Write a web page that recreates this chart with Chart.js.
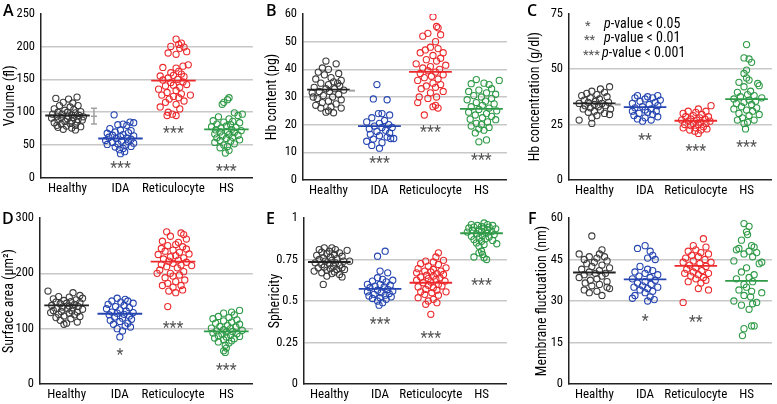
<!DOCTYPE html>
<html>
<head>
<meta charset="utf-8">
<script src="https://cdn.jsdelivr.net/npm/chart.js@4.4.1/dist/chart.umd.min.js"></script>
<style>
  body { margin: 0; background: #fff; }
  #wrap { position: relative; width: 777px; height: 404px; overflow: hidden;
          font-family: 'Roboto Condensed', sans-serif; }
  canvas { position: absolute; }
  .lbl { position: absolute; font-family: 'Open Sans', sans-serif; font-weight: 600; font-size: 16px; line-height: 16px; color: #000; }
  .leg { position: absolute; font-size: 14px; line-height: 14px; white-space: nowrap; color: #000; }
  .leg.st { color: #555; font-size: 13px; }
</style>
</head>
<body>
<div id="wrap">
  <canvas id="cA" width="258" height="202" style="left:0;top:0"></canvas>
  <canvas id="cB" width="254" height="202" style="left:258px;top:0"></canvas>
  <canvas id="cC" width="265" height="202" style="left:512px;top:0"></canvas>
  <canvas id="cD" width="258" height="202" style="left:0;top:202px"></canvas>
  <canvas id="cE" width="254" height="202" style="left:258px;top:202px"></canvas>
  <canvas id="cF" width="265" height="202" style="left:512px;top:202px"></canvas>

  <div class="lbl" style="left:3px;top:2px">A</div>
  <div class="lbl" style="left:266px;top:2px">B</div>
  <div class="lbl" style="left:527px;top:2px">C</div>
  <div class="lbl" style="left:2px;top:210px">D</div>
  <div class="lbl" style="left:266px;top:210px">E</div>
  <div class="lbl" style="left:528px;top:210px">F</div>

  <div class="leg st" style="left:585px;top:19px">*</div>
  <div class="leg" style="left:604px;top:16px"><i>p</i>-value &lt; 0.05</div>
  <div class="leg st" style="left:584px;top:33px">**</div>
  <div class="leg" style="left:604px;top:30px"><i>p</i>-value &lt; 0.01</div>
  <div class="leg st" style="left:583px;top:48px">***</div>
  <div class="leg" style="left:602px;top:45px"><i>p</i>-value &lt; 0.001</div>
</div>
<script>
// categories and colours
const categories = ['Healthy', 'IDA', 'Reticulocyte', 'HS'];
const pointColors = ['#3c3c3c', '#2545b0', '#ec2a2d', '#2f9a47'];
const lineColors = ['#222222', '#2545b0', '#ec2a2d', '#2f9a47'];

// each point: [horizontal jitter within category, value]
// A - Volume (fl)
const volHealthy = [[-0.22,121],[0.18,123],[0.02,120],[-0.08,115],[0.1,114],[0.2,110],[-0.15,110],[0.05,108],[-0.25,105],[0.12,104],[-0.05,103],[0.25,101],[-0.18,100],[0.0,100],[0.15,99],[-0.28,97],[-0.1,97],[0.08,96],[0.22,95],[-0.2,94],[0.02,94],[0.3,93],[-0.12,92],[0.12,92],[-0.3,91],[0.0,90],[0.2,89],[-0.18,88],[0.08,87],[-0.05,86],[0.18,85],[-0.25,84],[0.05,83],[-0.12,82],[0.15,80],[-0.02,79],[0.25,78],[-0.18,77],[0.08,76],[-0.08,74],[0.15,73],[-0.2,80],[0.28,88]];
const volIDA = [[-0.12,96],[0.18,85],[0.25,84],[0.05,82],[-0.05,81],[0.12,80],[-0.2,75],[0.0,73],[0.2,72],[-0.1,70],[0.15,69],[-0.25,68],[0.05,66],[-0.15,65],[0.25,64],[0.0,63],[-0.22,62],[0.12,61],[-0.08,60],[0.2,59],[-0.28,57],[0.02,56],[0.15,55],[-0.15,54],[0.25,53],[-0.05,52],[-0.25,51],[0.1,50],[0.2,48],[-0.1,47],[0.05,45],[-0.02,43],[0.08,40],[0.0,37]];
const volRetic = [[0.05,211],[0.15,205],[0.1,203],[-0.05,200],[0.2,199],[0.12,197],[0.25,192],[-0.1,190],[0.05,188],[0.28,172],[0.18,170],[-0.2,168],[0.05,167],[0.1,162],[-0.05,160],[0.15,158],[0.0,156],[-0.25,155],[0.2,154],[-0.1,152],[0.08,150],[-0.2,149],[0.18,146],[-0.05,145],[0.25,142],[0.0,141],[-0.15,140],[0.12,138],[-0.28,135],[0.05,133],[-0.12,130],[0.15,128],[-0.22,126],[0.32,126],[0.0,124],[0.1,122],[-0.08,120],[0.2,117],[-0.15,115],[0.05,112],[-0.25,108],[0.12,105],[-0.1,100],[-0.02,97],[0.05,95],[-0.12,95]];
const volHS = [[0.05,122],[0.02,119],[-0.05,115],[-0.08,112],[0.15,99],[0.3,97],[0.22,95],[-0.15,93],[0.05,90],[-0.25,87],[0.12,86],[-0.05,85],[0.25,84],[-0.18,82],[0.08,81],[0.0,79],[-0.28,78],[0.18,77],[-0.1,76],[0.1,74],[-0.2,73],[0.28,72],[0.02,71],[-0.12,70],[0.15,69],[-0.22,67],[0.05,66],[0.22,65],[-0.08,64],[0.12,62],[-0.18,61],[0.0,60],[0.25,58],[-0.12,57],[0.08,56],[-0.22,54],[0.15,52],[-0.05,50],[0.02,48],[-0.12,46],[0.05,42],[-0.02,38]];
const volMeans = [95, 60, 148, 74];
const volTicks = [0, 50, 100, 150, 200, 250];
const volStars = ['', '***', '***', '***'];
const volStarY = [null, 22, 75, 17];
const volRef = [94, 12];   // healthy reference mean, sd

// B - Hb content (pg)
const hbHealthy = [[-0.05,43],[0.15,42],[-0.12,40.5],[0.0,40],[-0.2,39],[0.2,38.5],[-0.08,38],[0.05,37],[-0.25,36.5],[0.25,36],[0.1,35.5],[-0.15,35],[0.0,34.5],[0.22,34],[-0.28,33.5],[-0.05,33],[0.12,33],[0.3,32.5],[-0.18,32],[0.02,32],[-0.32,31.5],[0.2,31],[-0.1,30.5],[0.08,30],[-0.22,29.5],[0.25,29],[0.0,28.5],[-0.12,28],[0.15,27.5],[-0.25,27],[0.05,26.5],[0.25,26],[-0.15,26],[0.0,25],[-0.05,24.5],[0.1,24.3],[0.18,35],[-0.3,30]];
const hbIDA = [[-0.05,34.5],[-0.12,29.3],[0.15,29],[-0.02,24],[0.05,24],[0.2,23.5],[-0.15,22.5],[0.1,21.5],[-0.25,21],[0.0,20.5],[0.18,20],[-0.1,19.5],[0.05,19],[0.25,19],[-0.2,18.5],[0.12,18],[-0.05,17.5],[0.2,17],[-0.18,16.5],[0.0,16],[0.15,15.5],[0.22,15],[0.28,15],[-0.12,14.8],[-0.25,14],[0.05,13.5],[-0.15,12.5],[0.0,11.5]];
const hbRetic = [[0.05,59],[0.12,55.5],[0.15,55],[-0.05,53],[0.2,52.5],[-0.15,52],[0.1,50],[0.0,48],[0.15,47.5],[-0.1,47],[0.25,46],[-0.2,46],[0.05,45],[0.2,44],[-0.08,43.5],[0.12,43],[-0.28,42],[0.3,41.5],[0.0,41],[-0.15,40.5],[0.18,40],[-0.05,39.5],[0.1,39],[-0.2,38.5],[0.25,38],[0.02,37.5],[-0.12,37],[0.15,36.5],[-0.25,36],[0.05,35],[0.2,34.5],[-0.08,34],[0.1,33.5],[-0.18,33],[0.25,32],[0.0,31.5],[-0.22,30],[0.12,30],[-0.05,29.5],[-0.25,28],[0.1,27],[0.05,26.5],[0.15,26],[-0.12,23.5]];
const hbHS = [[-0.1,36.3],[0.35,36],[0.05,35],[-0.2,34.8],[0.15,34.5],[0.2,33],[-0.05,32.5],[-0.25,32],[0.1,31.5],[0.28,31],[-0.15,30.5],[0.0,30],[0.2,29.5],[-0.28,29],[0.08,28.5],[-0.1,28],[0.25,27.5],[0.02,27],[-0.2,26.5],[0.15,26],[-0.05,25.5],[0.3,25],[-0.25,24.5],[0.1,24],[-0.12,23.5],[0.2,23],[0.02,22.5],[-0.22,22],[0.28,21.8],[0.12,21],[-0.1,20.5],[0.0,20],[-0.2,19.5],[0.15,19],[-0.05,18.5],[0.05,18],[-0.12,17],[0.1,14.5],[-0.05,13.8]];
const hbMeans = [32.7, 19.5, 39.1, 25.7];
const hbTicks = [0, 10, 20, 30, 40, 50, 60];
const hbStars = ['', '***', '***', '***'];
const hbStarY = [null, 7.5, 18.7, 8.7];
const hbRef = [32.3, 0];

// C - Hb concentration (g/dl)
const concHealthy = [[0.3,42],[0.12,41],[-0.05,40],[0.2,39.5],[-0.15,39],[0.05,38.5],[-0.25,38],[0.25,37.5],[-0.08,37],[0.1,36.5],[-0.2,36],[0.02,35.5],[0.28,35],[-0.12,35],[0.15,34.5],[-0.3,34.5],[0.0,34],[-0.18,33.5],[0.22,33.5],[0.08,33],[-0.08,32.5],[0.32,32],[-0.22,32],[0.12,31.5],[0.0,31],[-0.12,30.5],[0.2,30],[0.3,29.5],[0.05,29],[-0.05,28],[-0.3,27],[-0.05,25.5]];
const concIDA = [[-0.15,38],[0.25,38],[0.05,37.5],[-0.2,37],[0.15,37],[0.0,36.5],[0.3,36],[-0.1,35.5],[0.2,35],[-0.25,34.5],[0.08,34],[0.25,33.5],[-0.05,33],[-0.2,32.5],[0.12,32],[0.0,31.5],[-0.25,31],[0.22,31],[0.05,30.5],[-0.12,30],[0.15,29.5],[-0.22,29],[0.25,28.5],[0.0,28],[-0.15,27.5],[0.12,27],[-0.05,26.5]];
const concRetic = [[0.3,33.5],[0.05,32],[0.2,31],[-0.15,31],[0.0,30.5],[-0.25,30],[0.12,29.5],[-0.05,29],[0.25,28.5],[-0.2,28.5],[0.08,28],[-0.1,27.5],[0.18,27.5],[-0.28,27],[0.02,27],[0.28,26.5],[-0.15,26.5],[0.1,26],[-0.05,25.5],[0.2,25.5],[-0.22,25],[0.05,25],[-0.1,24.5],[0.15,24],[-0.25,23.5],[0.0,23.5],[0.22,23],[-0.12,22.5],[0.1,22.5],[-0.02,22],[0.05,21]];
const concHS = [[0.0,61],[-0.05,55],[0.05,54.5],[0.1,53],[0.0,49.5],[-0.05,48],[0.0,46],[0.05,45],[-0.15,44],[0.22,43.5],[0.25,42.5],[-0.05,42],[0.08,40],[-0.18,39.5],[0.02,38.5],[0.15,38],[-0.12,37.5],[0.3,37],[-0.25,36.5],[0.05,36],[0.18,35.5],[-0.05,35],[-0.2,34.5],[0.1,34],[-0.1,33],[0.2,32.5],[-0.25,32],[0.0,31.5],[0.12,31],[-0.15,30],[0.25,29.5],[0.05,29],[-0.08,28],[0.15,27],[-0.18,27],[0.02,26],[-0.05,25.5],[-0.02,23]];
const concMeans = [34.5, 32.8, 26.7, 36.4];
const concTicks = [0, 25, 50, 75];
const concStars = ['', '**', '***', '***'];
const concStarY = [null, 20, 15, 16.5];
const concRef = [34, 0];

// D - Surface area (um2)
const areaHealthy = [[-0.35,168],[0.12,165],[0.25,160],[-0.15,158],[0.05,157],[0.3,155],[-0.25,154],[0.18,152],[-0.05,151],[0.08,149],[-0.2,148],[0.25,147],[0.0,146],[-0.12,145],[0.15,144],[-0.28,142],[0.05,141],[0.22,140],[-0.08,139],[0.12,138],[-0.18,137],[0.02,136],[0.3,135],[-0.25,133],[0.1,132],[-0.1,131],[0.2,130],[-0.3,129],[0.05,128],[-0.15,126],[0.15,125],[-0.05,123],[0.25,122],[-0.2,120],[0.08,118],[-0.12,115],[0.2,112],[0.0,110],[-0.05,108]];
const areaIDA = [[-0.05,155],[0.1,153],[0.15,150],[-0.15,150],[0.02,148],[0.25,146],[-0.22,144],[0.08,142],[-0.08,140],[0.18,138],[-0.25,136],[0.0,134],[0.12,132],[-0.15,130],[0.25,129],[-0.05,128],[0.08,126],[-0.2,125],[0.18,123],[-0.1,121],[0.05,119],[0.22,117],[-0.18,115],[0.0,113],[0.15,110],[-0.12,108],[0.1,105],[0.2,103],[-0.05,100],[0.05,96],[0.0,85]];
const areaRetic = [[-0.12,275],[0.15,273],[0.2,270],[-0.05,267],[0.25,262],[-0.2,258],[0.1,256],[0.05,252],[-0.1,250],[0.18,248],[-0.22,245],[0.25,244],[0.0,242],[-0.15,240],[0.12,238],[0.3,235],[-0.28,234],[0.05,232],[-0.05,230],[0.2,228],[-0.18,226],[0.1,224],[-0.08,222],[0.25,220],[0.0,218],[-0.22,216],[0.15,215],[0.35,214],[-0.12,212],[0.08,210],[-0.25,206],[0.2,203],[-0.05,200],[-0.3,200],[0.12,197],[0.0,195],[-0.15,192],[0.22,188],[0.05,185],[-0.1,182],[0.15,178],[-0.2,178],[0.0,175],[0.18,170],[-0.08,168],[0.05,165],[-0.1,140]];
const areaHS = [[0.25,133],[0.1,130],[-0.05,128],[0.15,125],[-0.15,122],[0.05,120],[-0.25,118],[0.2,116],[-0.05,114],[0.1,112],[-0.2,110],[0.25,108],[0.02,106],[-0.12,104],[0.18,103],[-0.28,101],[0.08,100],[-0.05,98],[0.3,97],[-0.18,96],[0.12,95],[0.0,94],[-0.25,92],[0.2,91],[-0.08,90],[0.08,88],[-0.15,87],[0.25,86],[0.0,85],[-0.22,83],[0.15,82],[-0.05,80],[0.1,78],[-0.15,76],[0.05,74],[-0.02,70],[0.0,65],[-0.05,60],[-0.02,57]];
const areaMeans = [142, 127, 221, 95];
const areaTicks = [0, 100, 200, 300];
const areaStars = ['', '*', '***', '***'];
const areaStarY = [null, 59, 109, 32];

// E - Sphericity
const sphHealthy = [[-0.1,0.82],[0.05,0.82],[-0.2,0.81],[0.12,0.81],[0.35,0.805],[0.0,0.80],[-0.15,0.795],[0.2,0.79],[-0.05,0.785],[0.1,0.78],[-0.25,0.775],[0.25,0.77],[0.02,0.765],[-0.12,0.76],[0.15,0.755],[-0.2,0.75],[0.05,0.745],[0.28,0.74],[-0.08,0.74],[0.4,0.74],[0.12,0.73],[-0.28,0.73],[0.0,0.725],[-0.15,0.72],[0.2,0.715],[0.08,0.71],[-0.1,0.705],[0.25,0.70],[-0.22,0.70],[0.02,0.695],[0.15,0.69],[0.3,0.69],[-0.05,0.685],[-0.3,0.68],[0.1,0.675],[-0.15,0.67],[0.05,0.665],[0.2,0.66],[0.25,0.645],[-0.05,0.65],[-0.12,0.60]];
const sphIDA = [[0.1,0.80],[-0.05,0.77],[0.0,0.68],[0.15,0.67],[-0.05,0.64],[0.25,0.625],[0.05,0.63],[-0.15,0.62],[0.12,0.615],[-0.25,0.60],[0.0,0.60],[0.2,0.595],[-0.1,0.59],[0.08,0.585],[-0.2,0.58],[0.15,0.57],[-0.05,0.565],[0.25,0.56],[-0.25,0.555],[0.02,0.55],[0.18,0.545],[-0.12,0.54],[0.1,0.535],[-0.22,0.53],[0.22,0.525],[0.0,0.52],[-0.15,0.515],[0.12,0.51],[-0.05,0.50],[0.05,0.49],[-0.02,0.475]];
const sphRetic = [[0.15,0.79],[0.1,0.765],[0.25,0.745],[-0.1,0.74],[0.05,0.735],[-0.2,0.725],[0.15,0.72],[-0.05,0.71],[0.3,0.70],[-0.25,0.695],[0.05,0.69],[0.2,0.68],[-0.12,0.68],[0.0,0.675],[-0.28,0.67],[0.12,0.665],[0.25,0.66],[-0.08,0.655],[0.05,0.65],[-0.2,0.645],[0.18,0.64],[-0.05,0.635],[0.1,0.63],[-0.28,0.625],[0.28,0.62],[0.0,0.615],[-0.15,0.61],[0.15,0.60],[-0.05,0.595],[0.22,0.59],[-0.25,0.585],[0.05,0.58],[-0.1,0.57],[0.12,0.565],[-0.2,0.555],[0.3,0.555],[0.02,0.55],[-0.12,0.54],[0.15,0.535],[-0.25,0.52],[0.05,0.51],[-0.05,0.50],[0.12,0.49],[-0.1,0.48],[0.0,0.42]];
const sphHS = [[0.05,0.97],[-0.2,0.96],[0.12,0.96],[-0.08,0.955],[0.22,0.955],[0.0,0.95],[-0.15,0.945],[0.15,0.945],[-0.25,0.94],[0.05,0.94],[0.28,0.935],[-0.05,0.93],[0.12,0.93],[-0.18,0.925],[0.2,0.92],[0.0,0.92],[-0.28,0.915],[0.1,0.91],[-0.1,0.905],[0.25,0.90],[0.02,0.895],[-0.2,0.89],[0.15,0.885],[-0.05,0.88],[0.08,0.875],[-0.15,0.87],[0.22,0.865],[0.0,0.86],[-0.1,0.85],[0.3,0.845],[0.05,0.84],[-0.05,0.83],[0.0,0.80],[-0.05,0.79],[0.02,0.78],[-0.15,0.765],[0.05,0.76],[0.1,0.75]];
const sphMeans = [0.735, 0.573, 0.61, 0.908];
const sphTicks = [0, 0.25, 0.5, 0.75, 1];
const sphStars = ['', '***', '***', '***'];
const sphStarY = [null, 0.387, 0.30, 0.62];

// F - Membrane fluctuation (nm)
const flHealthy = [[-0.05,53.5],[-0.3,47],[0.15,48.5],[0.1,47],[0.2,46],[-0.1,46],[0.05,45.5],[-0.2,45],[0.25,44.5],[0.0,44],[-0.15,43.5],[0.15,43],[-0.05,42.5],[0.3,42],[-0.25,41.5],[0.1,41],[-0.1,40.5],[0.22,40],[0.02,40],[-0.2,39.5],[0.15,39],[-0.3,38.5],[0.05,38],[-0.08,37.5],[0.25,37],[-0.18,36.5],[0.1,36],[-0.05,35.5],[0.25,35],[0.3,34.5],[-0.2,34],[0.05,33.5],[-0.1,33],[0.15,32]];
const flIDA = [[0.0,50],[-0.15,49],[0.1,48],[0.15,46.5],[0.05,45.5],[0.2,45],[-0.1,42.5],[0.05,41.5],[0.15,41],[-0.2,40.5],[0.0,40],[0.25,39.5],[-0.12,39],[0.1,38.5],[-0.25,38],[0.2,37.5],[0.0,37],[-0.15,36.5],[0.12,36],[-0.05,35.5],[0.25,35],[-0.22,35],[0.05,34.5],[-0.1,34],[0.15,33.5],[0.0,33],[-0.2,32],[0.1,31.5],[-0.25,31],[0.18,30.5],[0.05,30]];
const flRetic = [[0.15,52.5],[-0.05,50],[0.2,49.5],[0.0,48.5],[-0.15,48],[0.1,47.5],[0.25,47],[-0.08,46.5],[0.05,46],[-0.2,45.5],[0.18,45],[-0.05,44.5],[0.3,44],[-0.25,44],[0.08,43.5],[-0.12,43],[0.2,42.5],[0.0,42],[-0.18,41.5],[0.12,41],[-0.05,40.5],[0.25,40],[-0.22,40],[0.05,39.5],[-0.1,39],[0.15,38.5],[0.0,38],[0.2,37.5],[-0.15,37],[0.1,36.5],[0.05,34.5],[0.25,34],[-0.25,29.5]];
const flHS = [[-0.05,58],[0.05,57],[0.0,55],[0.02,54],[-0.1,52],[0.1,50],[0.15,49.5],[-0.15,49],[-0.2,48.5],[0.05,48],[0.2,47.5],[-0.05,47],[0.12,46],[0.3,44],[-0.25,44.5],[0.25,43.5],[0.0,42],[-0.1,40.5],[0.15,39.5],[0.05,38.5],[-0.2,38],[0.12,37],[-0.05,36],[0.0,35],[-0.15,34],[0.1,33.5],[0.3,33],[-0.05,32],[0.08,31.5],[-0.25,30],[0.2,29.5],[0.12,29],[-0.1,28.5],[0.05,27],[0.1,21],[0.15,21],[-0.05,20],[-0.08,17.5]];
const flMeans = [40.3, 37.8, 42.7, 37.3];
const flTicks = [0, 15, 30, 45, 60];
const flStars = ['', '*', '**', ''];
const flStarY = [null, 24.2, 24, null];

const FONT = "'Roboto Condensed', sans-serif";

function makePanel(id, p) {
    const datasets = [];
    p.groups.forEach((g, i) => {
        datasets.push({
            type: 'scatter',
            data: g.map(d => ({ x: i + d[0], y: d[1] })),
            pointRadius: 3.1,
            pointBorderWidth: 1.1,
            pointBorderColor: pointColors[i],
            pointBackgroundColor: 'rgba(255,255,255,0)',
            order: 2
        });
        datasets.push({
            type: 'line',
            data: [{ x: i - 0.42, y: p.means[i] }, { x: i + 0.42, y: p.means[i] }],
            borderColor: lineColors[i],
            borderWidth: 1.8,
            pointRadius: 0,
            order: 1
        });
    });
    const yMax = p.ticks[p.ticks.length - 1];

    new Chart(document.getElementById(id), {
        type: 'scatter',
        data: { datasets },
        options: {
            responsive: false,
            animation: false,
            devicePixelRatio: 1,
            layout: { padding: { top: p.padTop, right: p.padRight, left: 0, bottom: 0 } },
            plugins: { legend: { display: false }, tooltip: { enabled: false } },
            scales: {
                x: {
                    type: 'linear',
                    min: -0.5,
                    max: 3.5,
                    afterBuildTicks: s => { s.ticks = categories.map((c, i) => ({ value: i })); },
                    afterFit: s => { s.height = p.xH; },
                    grid: { display: false, drawTicks: false },
                    border: { color: '#222', width: 1.5 },
                    ticks: {
                        callback: v => categories[v],
                        font: { family: FONT, size: 13 },
                        color: '#000',
                        padding: 3,
                        maxRotation: 0,
                        autoSkip: false
                    }
                },
                y: {
                    min: 0,
                    max: yMax,
                    afterBuildTicks: s => { s.ticks = p.ticks.map(v => ({ value: v })); },
                    afterFit: s => { s.width = p.yW; },
                    grid: {
                        drawTicks: false,
                        lineWidth: 1.5,
                        color: c => (c.tick && (c.tick.value === 0 || c.tick.value === yMax)) ? 'rgba(0,0,0,0)' : '#c8c8c8'
                    },
                    border: { color: '#222', width: 1.5 },
                    ticks: {
                        callback: v => String(v),
                        font: { family: FONT, size: 12.5 },
                        color: '#000',
                        padding: 6
                    },
                    title: {
                        display: true,
                        text: p.title,
                        font: { family: FONT, size: 14 },
                        color: '#000',
                        padding: { top: p.titlePad, bottom: 0 }
                    }
                }
            }
        },
        plugins: [{
            id: 'marks',
            afterDatasetsDraw(chart) {
                const { ctx } = chart;
                const x = chart.scales.x, y = chart.scales.y;
                ctx.save();
                // significance stars
                ctx.font = '16px ' + FONT;
                ctx.fillStyle = '#555';
                ctx.textAlign = 'center';
                ctx.textBaseline = 'alphabetic';
                p.stars.forEach((s, i) => {
                    if (!s) return;
                    ctx.fillText(s, x.getPixelForValue(i), y.getPixelForValue(p.starY[i]) + 9);
                });
                // healthy reference mark
                if (p.ref) {
                    ctx.strokeStyle = '#a0a0a0';
                    ctx.lineWidth = 1.5;
                    ctx.beginPath();
                    if (p.ref[1] > 0) {
                        const cx = x.getPixelForValue(0.5);
                        const top = y.getPixelForValue(p.ref[0] + p.ref[1]);
                        const bot = y.getPixelForValue(p.ref[0] - p.ref[1]);
                        const mid = y.getPixelForValue(p.ref[0]);
                        ctx.moveTo(cx, top); ctx.lineTo(cx, bot);
                        ctx.moveTo(cx - 3, top); ctx.lineTo(cx + 3, top);
                        ctx.moveTo(cx - 3, bot); ctx.lineTo(cx + 3, bot);
                        ctx.moveTo(cx - 3, mid); ctx.lineTo(cx + 3, mid);
                    } else {
                        const my = y.getPixelForValue(p.ref[0]);
                        ctx.lineWidth = 2;
                        ctx.moveTo(x.getPixelForValue(0.4), my);
                        ctx.lineTo(x.getPixelForValue(0.52), my);
                    }
                    ctx.stroke();
                }
                ctx.restore();
            }
        }]
    });
}

makePanel('cA', { groups: [volHealthy, volIDA, volRetic, volHS], means: volMeans, ticks: volTicks,
    stars: volStars, starY: volStarY, ref: volRef, title: 'Volume (fl)',
    yW: 41, xH: 24, padTop: 12, padRight: 3, titlePad: 1.6 });
makePanel('cB', { groups: [hbHealthy, hbIDA, hbRetic, hbHS], means: hbMeans, ticks: hbTicks,
    stars: hbStars, starY: hbStarY, ref: hbRef, title: 'Hb content (pg)',
    yW: 45, xH: 22, padTop: 14, padRight: 4, titlePad: 5.6 });
makePanel('cC', { groups: [concHealthy, concIDA, concRetic, concHS], means: concMeans, ticks: concTicks,
    stars: concStars, starY: concStarY, ref: concRef, title: 'Hb concentration (g/dl)',
    yW: 57, xH: 22, padTop: 13, padRight: 4, titlePad: 15 });
makePanel('cD', { groups: [areaHealthy, areaIDA, areaRetic, areaHS], means: areaMeans, ticks: areaTicks,
    stars: areaStars, starY: areaStarY, title: 'Surface area (\u03bcm\u00b2)',
    yW: 40, xH: 20, padTop: 16, padRight: 5, titlePad: 0.6 });
makePanel('cE', { groups: [sphHealthy, sphIDA, sphRetic, sphHS], means: sphMeans, ticks: sphTicks,
    stars: sphStars, starY: sphStarY, title: 'Sphericity',
    yW: 46, xH: 20, padTop: 16, padRight: 2, titlePad: 8.6 });
makePanel('cF', { groups: [flHealthy, flIDA, flRetic, flHS], means: flMeans, ticks: flTicks,
    stars: flStars, starY: flStarY, title: 'Membrane fluctuation (nm)',
    yW: 57, xH: 20, padTop: 16, padRight: 4, titlePad: 22 });
</script>
</body>
</html>
